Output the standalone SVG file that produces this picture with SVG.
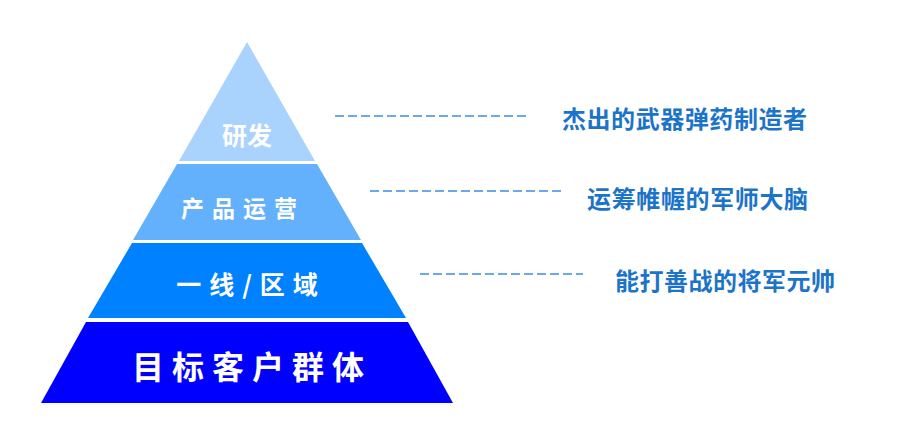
<svg xmlns="http://www.w3.org/2000/svg" width="899" height="446" viewBox="0 0 899 446">
<style>
.lbl{font-family:"Noto Sans CJK SC","Noto Sans",sans-serif;font-weight:bold;fill:#fff;text-anchor:middle;dominant-baseline:central}
.side{font-family:"Noto Sans CJK SC","Noto Sans",sans-serif;font-weight:bold;fill:#1C74C8;font-size:24px;dominant-baseline:central}
.dash{stroke:#3A8EE6;stroke-width:1.5;stroke-dasharray:9 4;fill:none}
</style>
<rect width="899" height="446" fill="#fff"/>
<g id="tier1"><polygon points="247,42 315,161 179,161" fill="#A9D2FD"/><text class="lbl" x="247" y="134" font-size="25">研发</text></g>
<g id="tier2"><polygon points="177,164 317,164 361,240 133,240" fill="#63B0FC"/><text class="lbl" x="243" y="207" font-size="23" letter-spacing="8">产品运营</text></g>
<g id="tier3"><polygon points="132,243 362,243 406,318 88,318" fill="#0081FF"/><text class="lbl" x="251" y="283" font-size="25" letter-spacing="8">一线/区域</text></g>
<g id="tier4"><polygon points="86,322 408,322 453,403 41,403" fill="#0000FF"/><text class="lbl" x="252" y="365" font-size="32" letter-spacing="8">目标客户群体</text></g>
<g id="connectors">
<line class="dash" x1="335" y1="116" x2="528" y2="116"/>
<line class="dash" x1="370" y1="191" x2="563" y2="191"/>
<line class="dash" x1="420" y1="274" x2="583" y2="274"/>
</g>
<g id="note1"><text class="side" x="562" y="117" textLength="245">杰出的武器弹药制造者</text></g>
<g id="note2"><text class="side" x="587" y="197" textLength="221">运筹帷幄的军师大脑</text></g>
<g id="note3"><text class="side" x="615" y="279" textLength="220">能打善战的将军元帅</text></g>
</svg>
